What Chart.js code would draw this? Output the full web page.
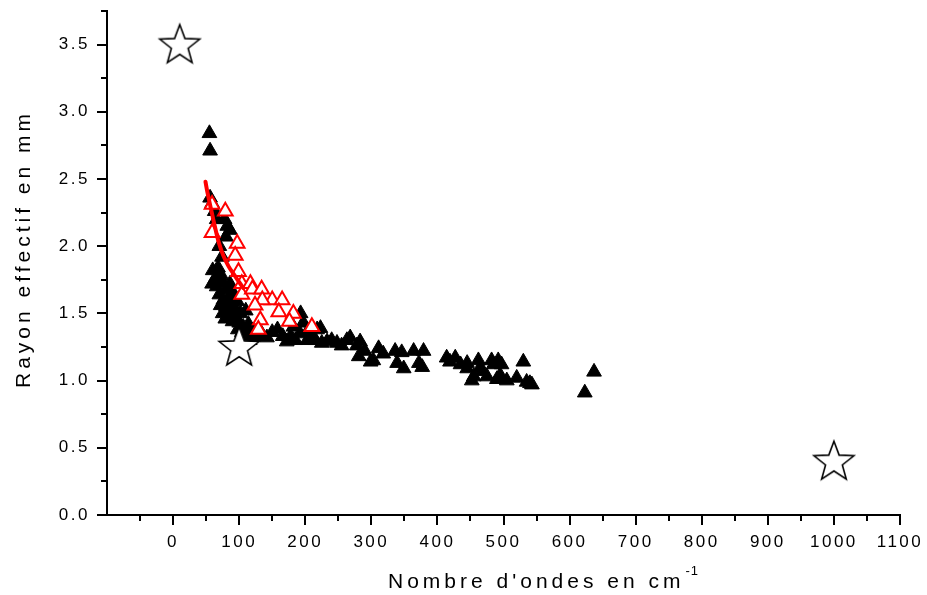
<!DOCTYPE html>
<html lang="fr">
<head>
    <meta charset="UTF-8">
    <title>Rayon effectif en fonction du nombre d'ondes</title>
    <script src="https://cdn.jsdelivr.net/npm/chart.js"></script>
    <style>
        body {
            margin: 0;
            padding: 0;
            background-color: #ffffff;
        }
        .chart-container {
            width: 927px;
            height: 595px;
        }
    </style>
</head>
<body>
    <div class="chart-container">
        <canvas id="rayonChart"></canvas>
    </div>

    <script>
        // Mesures (triangles pleins)
        const mesuresX = [55, 56, 56, 59, 63, 66, 78, 82, 86, 80, 70, 74, 60, 64, 68, 72, 76, 59, 66, 80,
            86, 90, 70, 76, 84, 92, 97, 72, 80, 88, 96, 75, 84, 94, 102, 110, 79, 90, 100, 106,
            114, 98, 104, 112, 120, 108, 116, 126, 134, 142, 150, 158, 166, 172, 178, 185, 192, 182, 193, 197,
            204, 212, 218, 223, 203, 215, 225, 233, 240, 248, 255, 263, 268, 278, 283, 281, 290, 299, 303, 311,
            318, 336, 346, 339, 349, 364, 379, 372, 377, 414, 419, 427, 435, 445, 445, 452, 455, 462, 465, 467,
            475, 482, 485, 490, 492, 497, 495, 505, 520, 530, 535, 540, 543, 623, 637];
        const mesuresY = [2.84, 2.71, 2.36, 2.32, 2.26, 2.20, 2.20, 2.15, 2.12, 2.07, 2.00, 1.92, 1.82, 1.76, 1.84, 1.79, 1.73, 1.72, 1.70, 1.68,
            1.72, 1.66, 1.64, 1.60, 1.62, 1.60, 1.59, 1.56, 1.55, 1.54, 1.52, 1.50, 1.48, 1.48, 1.50, 1.52, 1.46, 1.44, 1.43, 1.40,
            1.42, 1.38, 1.36, 1.35, 1.37, 1.30, 1.30, 1.33, 1.35, 1.32, 1.36, 1.38, 1.33, 1.29, 1.33, 1.30, 1.35, 1.40, 1.50, 1.43,
            1.37, 1.33, 1.38, 1.39, 1.30, 1.30, 1.28, 1.29, 1.30, 1.28, 1.26, 1.30, 1.32, 1.26, 1.29, 1.18, 1.22, 1.14, 1.15, 1.24,
            1.20, 1.22, 1.21, 1.13, 1.09, 1.22, 1.22, 1.13, 1.10, 1.17, 1.14, 1.17, 1.12, 1.13, 1.09, 1.00, 1.03, 1.15, 1.10, 1.07,
            1.03, 1.15, 1.12, 1.01, 1.15, 1.12, 1.04, 1.00, 1.02, 1.14, 0.99, 0.98, 0.97, 0.91, 1.065];

        // Deuxième série (triangles vides rouges)
        const serie2X = [59, 79, 59, 97, 94, 99, 104, 117, 104, 120, 134, 150, 135, 165, 124, 160, 182, 132, 176, 129, 210];
        const serie2Y = [2.31, 2.26, 2.10, 2.02, 1.93, 1.81, 1.72, 1.72, 1.64, 1.68, 1.68, 1.60, 1.60, 1.60, 1.56, 1.51, 1.50, 1.45, 1.44, 1.38, 1.40];

        // Courbe d'ajustement
        const ajustX = [49, 52, 55, 59, 64, 69, 76, 84, 92, 99, 106];
        const ajustY = [2.48, 2.40, 2.33, 2.24, 2.13, 2.03, 1.93, 1.85, 1.79, 1.74, 1.69];

        // Valeurs de référence (étoiles)
        const refX = [10, 100, 1000];
        const refY = [3.5, 1.25, 0.4];

        const toPoints = (xs, ys) => xs.map((x, i) => ({ x: x, y: ys[i] }));

        const police = '"Liberation Sans", Arial, sans-serif';

        // étoile à cinq branches, vide
        function makeStar(R) {
            const size = Math.ceil(R * 2 + 4);
            const c = document.createElement('canvas');
            c.width = size;
            c.height = size;
            const g = c.getContext('2d');
            const cx = size / 2, cy = size / 2 + 1;
            const r = R * 0.42;
            g.beginPath();
            for (let k = 0; k < 10; k++) {
                const rad = (k % 2 === 0) ? R : r;
                const a = -Math.PI / 2 + k * Math.PI / 5;
                const px = cx + rad * Math.cos(a);
                const py = cy + rad * Math.sin(a);
                if (k === 0) g.moveTo(px, py); else g.lineTo(px, py);
            }
            g.closePath();
            g.fillStyle = '#ffffff';
            g.fill();
            g.lineWidth = 1.6;
            g.strokeStyle = '#000000';
            g.stroke();
            return c;
        }

        // graduations majeures / mineures et titres des axes
        const axesPlugin = {
            id: 'axesOrigin',
            beforeDraw(chart) {
                chart.ctx.letterSpacing = '2.5px';
            },
            afterDraw(chart) {
                const ctx = chart.ctx;
                const xs = chart.scales.x;
                const ys = chart.scales.y;
                ctx.save();
                ctx.strokeStyle = '#000';
                ctx.lineWidth = 2;
                ctx.beginPath();
                xs.ticks.forEach(t => {
                    if (t.value <= xs.min) return;
                    const px = Math.round(xs.getPixelForValue(t.value));
                    const len = (t.value % 100 === 0) ? 10 : 6;
                    ctx.moveTo(px, ys.bottom);
                    ctx.lineTo(px, ys.bottom + len);
                });
                ys.ticks.forEach(t => {
                    const py = Math.round(ys.getPixelForValue(t.value));
                    const major = Math.abs(t.value * 2 - Math.round(t.value * 2)) < 1e-6;
                    ctx.moveTo(xs.left, py);
                    ctx.lineTo(xs.left - (major ? 10 : 6), py);
                });
                ctx.stroke();

                ctx.fillStyle = '#000';
                ctx.letterSpacing = '4px';
                ctx.font = '21px ' + police;
                ctx.textAlign = 'left';
                ctx.textBaseline = 'alphabetic';
                const titreX = "Nombre d'ondes en cm";
                const x0 = 388;
                ctx.fillText(titreX, x0, 588);
                const w = ctx.measureText(titreX).width;
                ctx.letterSpacing = '1px';
                ctx.font = '13px ' + police;
                ctx.fillText('-1', x0 + w + 1, 575);

                ctx.translate(30, 249);
                ctx.rotate(-Math.PI / 2);
                ctx.letterSpacing = '4px';
                ctx.font = '21px ' + police;
                ctx.textAlign = 'center';
                ctx.fillText('Rayon effectif en mm', 0, 0);
                ctx.restore();
            }
        };

        const ctx = document.getElementById('rayonChart').getContext('2d');
        new Chart(ctx, {
            type: 'scatter',
            data: {
                datasets: [
                    {
                        label: 'Référence',
                        data: toPoints(refX, refY),
                        pointStyle: makeStar(21),
                        pointRadius: 21
                    },
                    {
                        label: 'Ajustement',
                        data: toPoints(ajustX, ajustY),
                        showLine: true,
                        borderColor: '#ff0000',
                        borderWidth: 4,
                        pointRadius: 0,
                        tension: 0.3,
                        borderCapStyle: 'round'
                    },
                    {
                        label: 'Série 2',
                        data: toPoints(serie2X, serie2Y),
                        pointStyle: 'triangle',
                        pointRadius: 8.5,
                        backgroundColor: '#ffffff',
                        borderColor: '#ff0000',
                        borderWidth: 2
                    },
                    {
                        label: 'Mesures',
                        data: toPoints(mesuresX, mesuresY),
                        pointStyle: 'triangle',
                        pointRadius: 8.5,
                        backgroundColor: '#000000',
                        borderColor: '#000000',
                        borderWidth: 1
                    }
                ]
            },
            options: {
                responsive: true,
                maintainAspectRatio: false,
                animation: false,
                events: [],
                layout: {
                    autoPadding: false,
                    padding: { top: 11, right: 27, left: 0, bottom: 0 }
                },
                plugins: {
                    legend: { display: false },
                    tooltip: { enabled: false }
                },
                scales: {
                    x: {
                        type: 'linear',
                        min: -100,
                        max: 1100,
                        afterFit: (scale) => {
                            scale.height = 80;
                            scale.paddingLeft = 0;
                            scale.paddingRight = 0;
                        },
                        grid: { display: false, drawTicks: false },
                        border: { display: true, color: '#000', width: 2 },
                        ticks: {
                            stepSize: 50,
                            autoSkip: false,
                            maxRotation: 0,
                            padding: 17,
                            color: '#000',
                            font: { family: police, size: 17 },
                            callback: (v) => (v >= 0 && v % 100 === 0) ? String(v) : ''
                        }
                    },
                    y: {
                        min: 0,
                        max: 3.75,
                        afterFit: (scale) => {
                            scale.width = 107;
                            scale.paddingTop = 0;
                            scale.paddingBottom = 0;
                        },
                        grid: { display: false, drawTicks: false },
                        border: { display: true, color: '#000', width: 2 },
                        ticks: {
                            stepSize: 0.25,
                            autoSkip: false,
                            padding: 17,
                            color: '#000',
                            font: { family: police, size: 17 },
                            callback: (v) => (Math.abs(v * 2 - Math.round(v * 2)) < 1e-6) ? v.toFixed(1) : ''
                        }
                    }
                }
            },
            plugins: [axesPlugin]
        });
    </script>
</body>
</html>
